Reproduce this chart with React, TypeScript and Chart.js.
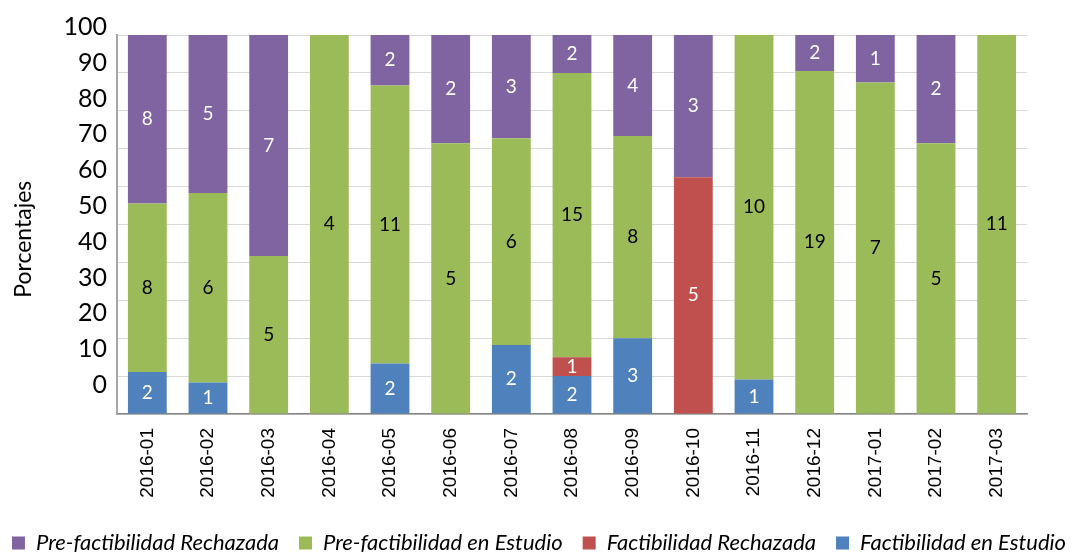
import React, { useEffect, useRef } from 'react';
import { Chart, registerables } from 'chart.js';

Chart.register(...registerables);

const categories = [
  '2016-01', '2016-02', '2016-03', '2016-04', '2016-05', '2016-06', '2016-07', '2016-08',
  '2016-09', '2016-10', '2016-11', '2016-12', '2017-01', '2017-02', '2017-03',
];

// counts per month (labels shown on the bars)
const factibilidadEstudio = [2, 1, 0, 0, 2, 0, 2, 2, 3, 0, 1, 0, 0, 0, 0];
const factibilidadRechazada = [0, 0, 0, 0, 0, 0, 0, 1, 0, 5, 0, 0, 0, 0, 0];
const preFactibilidadEstudio = [8, 6, 5, 4, 11, 5, 6, 15, 8, 0, 10, 19, 7, 5, 11];
const preFactibilidadRechazada = [8, 5, 7, 0, 2, 2, 3, 2, 4, 3, 0, 2, 1, 2, 0];

const yTickLabels = [0, 10, 20, 30, 40, 50, 60, 70, 80, 90, 100];

const seriesNames = [
  'Factibilidad en Estudio',
  'Factibilidad Rechazada',
  'Pre-factibilidad en Estudio',
  'Pre-factibilidad Rechazada',
];
const seriesColors = ['#4F81BD', '#C0504D', '#9BBB59', '#8064A2'];
const labelColors = ['#ffffff', '#ffffff', '#000000', '#ffffff'];

const seriesCounts = [
  factibilidadEstudio,
  factibilidadRechazada,
  preFactibilidadEstudio,
  preFactibilidadRechazada,
];

const totals = categories.map((_, i) => seriesCounts.reduce((s, arr) => s + arr[i], 0));
const toPct = (arr: number[]) => arr.map((v, i) => (totals[i] ? (v / totals[i]) * 100 : 0));

const NUM_FONT = 'Lato, "Open Sans", sans-serif';
const SIDE = 40; // negative side padding so the legend row can span the full width

const barLabels = {
  id: 'barLabels',
  afterDatasetsDraw(chart: any) {
    const ctx = chart.ctx;
    ctx.save();
    ctx.font = `19px ${NUM_FONT}`;
    ctx.textAlign = 'center';
    ctx.textBaseline = 'middle';
    chart.data.datasets.forEach((ds: any, di: number) => {
      const meta = chart.getDatasetMeta(di);
      meta.data.forEach((el: any, i: number) => {
        const c = seriesCounts[di][i];
        if (!c) return;
        const p = el.getProps(['x', 'y', 'base'], true);
        ctx.fillStyle = labelColors[di];
        ctx.fillText(String(c), p.x, (p.y + p.base) / 2);
      });
    });
    ctx.restore();
  },
};

export default function App() {
  const ref = useRef<HTMLCanvasElement | null>(null);

  useEffect(() => {
    if (!ref.current) return;
    const chart = new Chart(ref.current, {
      type: 'bar',
      data: {
        labels: categories,
        datasets: seriesCounts.map((arr, i) => ({
          label: seriesNames[i],
          data: toPct(arr),
          backgroundColor: seriesColors[i],
          borderWidth: 0,
          categoryPercentage: 1,
          barPercentage: 0.64,
        })),
      },
      options: {
        animation: false,
        responsive: false,
        layout: { padding: { top: 35, right: -SIDE, left: -SIDE, bottom: -12 } },
        plugins: {
          tooltip: { enabled: false },
          legend: {
            position: 'bottom',
            reverse: true,
            labels: {
              boxWidth: 13,
              boxHeight: 13,
              padding: 20,
              color: '#000000',
              font: { family: NUM_FONT, size: 22, style: 'italic' },
            },
          },
        },
        scales: {
          x: {
            stacked: true,
            grid: { display: false, drawTicks: false },
            border: { color: '#868686', width: 1.5 },
            ticks: {
              autoSkip: false,
              maxRotation: 90,
              minRotation: 90,
              padding: 14,
              color: '#000000',
              font: { family: '"Liberation Sans", Arial, sans-serif', size: 19 },
            },
            afterFit: (s: any) => {
              s.height = 98;
            },
          },
          y: {
            stacked: true,
            min: 0,
            max: 100,
            weight: 0,
            position: 'left',
            grid: { color: '#d9d9d9', lineWidth: 1, drawTicks: false },
            border: { color: '#a6a6a6', width: 2 },
            ticks: { display: false, stepSize: 10 },
            afterFit: (s: any) => {
              s.width = 0;
            },
          },
          yl: {
            type: 'linear',
            position: 'left',
            weight: 1,
            min: -8.12,
            max: 97.76,
            grid: { display: false, drawTicks: false },
            border: { display: false },
            ticks: {
              padding: 10,
              color: '#000000',
              font: { family: NUM_FONT, size: 25 },
            },
            afterBuildTicks: (s: any) => {
              s.ticks = yTickLabels.map((v) => ({ value: v }));
            },
            title: {
              display: true,
              text: 'Porcentajes     ',
              color: '#000000',
              font: { family: NUM_FONT, size: 23 },
              padding: { top: SIDE + 10, bottom: 0 },
            },
            afterFit: (s: any) => {
              s.width = 117 + SIDE;
            },
          },
          yr: {
            type: 'linear',
            position: 'right',
            grid: { display: false, drawTicks: false },
            border: { display: false },
            ticks: { display: false },
            afterFit: (s: any) => {
              s.width = 51 + SIDE;
            },
          },
        },
      } as any,
      plugins: [barLabels],
    });
    return () => chart.destroy();
  }, []);

  return (
    <div style={{ position: 'absolute', left: 0, top: 0, width: 1078, height: 552 }}>
      <canvas ref={ref} width={1078} height={552} />
    </div>
  );
}
